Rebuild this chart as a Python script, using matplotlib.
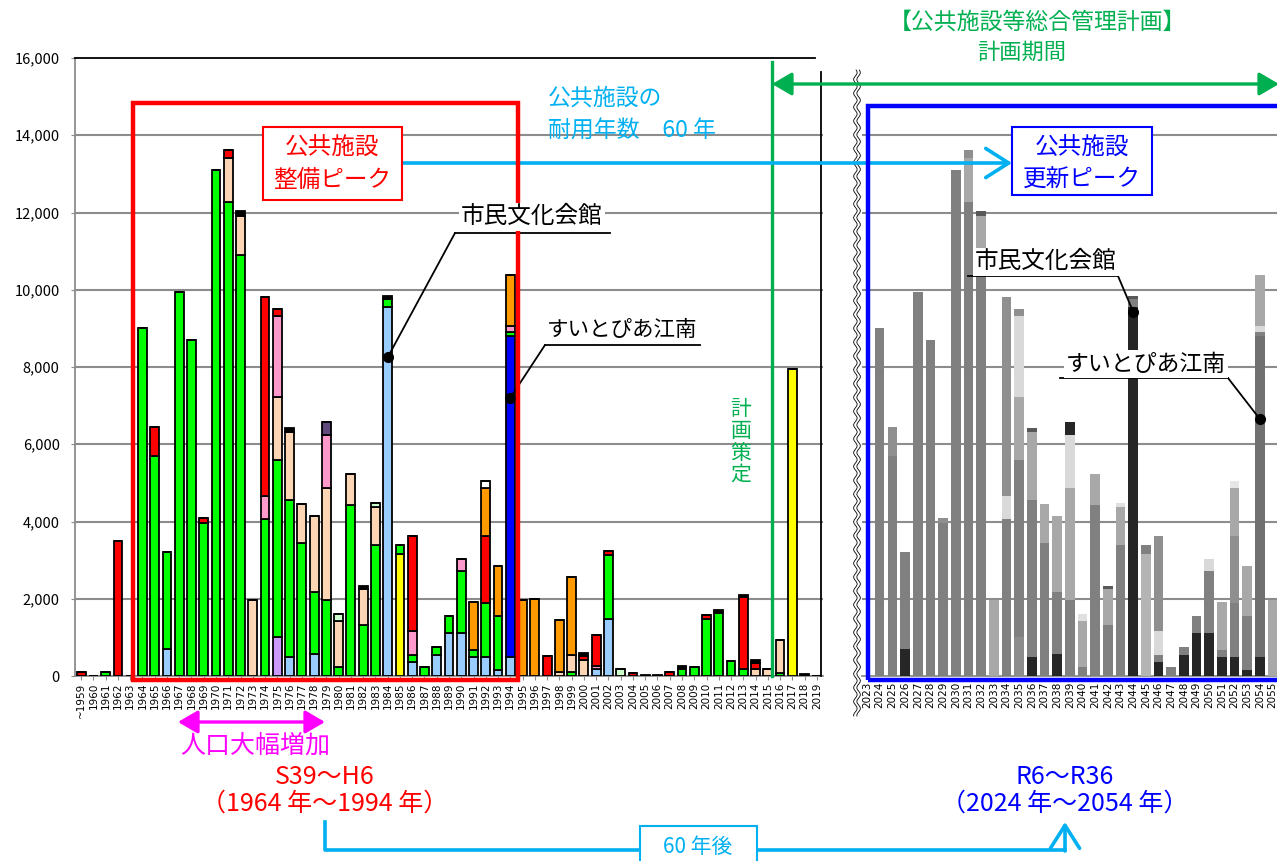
import numpy as np
import matplotlib
matplotlib.use("Agg")
import matplotlib.pyplot as plt
from matplotlib.patches import Rectangle, FancyArrowPatch
from matplotlib.lines import Line2D

plt.rcParams['font.family'] = ['Noto Sans CJK JP', 'DejaVu Sans']

W, H = 1277, 861

# 建築年度
years = list(range(1959, 2020))
year_labels = ['~1959'] + [str(y) for y in years[1:]]
renew_years = list(range(2023, 2056))
life_span = 60

# 施設区分ごとの整備延床面積（㎡）
light_blue = {1966: 700, 1976: 500, 1978: 570, 1984: 9560, 1986: 355, 1988: 545, 1989: 1110,
              1990: 1110, 1991: 485, 1992: 500, 1993: 150, 1994: 485, 2001: 180, 2002: 1480}
blue = {1994: 8330}
yellow = {1985: 3170, 2017: 7950}
purple = {1975: 1000}
green = {1961: 100, 1964: 9000, 1965: 5700, 1966: 2500, 1967: 9950, 1968: 8700, 1969: 3950,
         1970: 13100, 1971: 12280, 1972: 10900, 1974: 4070, 1975: 4590, 1976: 4050, 1977: 3450,
         1978: 1600, 1979: 1960, 1980: 225, 1981: 4440, 1982: 1330, 1983: 3400, 1984: 210,
         1985: 230, 1986: 200, 1987: 240, 1988: 215, 1989: 440, 1990: 1600, 1991: 190,
         1992: 1390, 1993: 1410, 1994: 85, 1999: 95, 2002: 1660, 2008: 180, 2009: 225,
         2010: 1480, 2011: 1630, 2012: 400, 2013: 180, 2016: 70}
peach = {1971: 1140, 1972: 1000, 1973: 1970, 1975: 1645, 1976: 1775, 1977: 1010, 1978: 1980,
         1979: 2900, 1980: 1195, 1981: 780, 1982: 930, 1983: 980, 1998: 100, 1999: 460,
         2000: 415, 2014: 180, 2015: 180, 2016: 865}
light_green = {1980: 190, 1983: 90, 2003: 180}
pink = {1974: 590, 1975: 2080, 1979: 1385, 1986: 600, 1990: 320, 1994: 155, 2001: 90}
dark_purple = {1979: 320}
red = {1959: 100, 1962: 3500, 1965: 750, 1969: 150, 1971: 200, 1974: 5140, 1975: 190,
       1986: 2475, 1992: 1730, 1997: 530, 2000: 95, 2001: 795, 2002: 100, 2004: 90,
       2007: 110, 2010: 110, 2013: 1860, 2014: 160}
orange = {1991: 1230, 1992: 1240, 1993: 1280, 1994: 1315, 1995: 1970, 1996: 2000,
          1998: 1340, 1999: 2010}
white = {1992: 180}
black = {1972: 130, 1976: 90, 1982: 70, 1984: 80, 2000: 85, 2005: 30, 2006: 30, 2008: 70,
         2011: 85, 2013: 70, 2014: 85, 2018: 40}

# 積み上げ順（下から）: データ, カラー, 更新時のグレー
series = [
    (light_blue, '#99CCFF', '#262626'),
    (blue, '#0000FF', '#707070'),
    (yellow, '#FFFF00', '#B4B4B4'),
    (purple, '#CC99FF', '#8C8C8C'),
    (green, '#00FF00', '#808080'),
    (peach, '#FCD5B4', '#A8A8A8'),
    (light_green, '#CCFFCC', '#E0E0E0'),
    (pink, '#FF99CC', '#D9D9D9'),
    (dark_purple, '#604A7B', '#262626'),
    (red, '#FF0000', '#8F8F8F'),
    (orange, '#FF9900', '#A8A8A8'),
    (white, '#FFFFFF', '#E6E6E6'),
    (black, '#000000', '#595959'),
]

grid_c = '#8C8C8C'


def fx(x):
    return x / W


def fy(y):
    return 1 - y / H


fig = plt.figure(figsize=(W / 100, H / 100), dpi=100)

# ---- 建築年度別（左） ----
ax = fig.add_axes([fx(75), fy(676), (823 - 75) / W, (676 - 58) / H])
x = np.array(years)
bottom = np.zeros(len(years))
for data, col, _ in series:
    vals = np.array([data.get(y, 0) for y in years], dtype=float)
    ax.bar(x, vals, bottom=bottom, width=0.72, color=col, edgecolor='black',
           linewidth=1.3, zorder=3)
    bottom += vals

ax.set_xlim(1958.5, 2019.5)
ax.set_ylim(0, 16000)
ax.set_yticks(range(0, 16001, 2000))
ax.set_yticklabels([f'{v:,}' for v in range(0, 16001, 2000)], fontsize=10.5)
ax.set_xticks(years)
ax.set_xticklabels(year_labels, rotation=90, fontsize=7.5, family='DejaVu Sans')
ax.tick_params(axis='y', length=3, pad=8, color=grid_c)
ax.tick_params(axis='x', length=3, pad=2, color=grid_c)
ax.grid(axis='y', color=grid_c, lw=1.5, zorder=0)
ax.yaxis.get_gridlines()[-1].set_visible(False)
ax.set_axisbelow(True)
for s in ['top', 'right']:
    ax.spines[s].set_visible(False)
for s in ['left', 'bottom']:
    ax.spines[s].set_color(grid_c)
    ax.spines[s].set_linewidth(1.3)

# ---- 60年後の更新年度（右） ----
ax2 = fig.add_axes([fx(862), fy(676), (1277 - 862) / W, (676 - 58) / H])
bottom = np.zeros(len(years))
for data, _, gray in series:
    vals = np.array([data.get(y, 0) for y in years], dtype=float)
    ax2.bar(x + life_span, vals, bottom=bottom, width=0.75, color=gray,
            edgecolor='none', zorder=3)
    bottom += vals
ax2.set_xlim(2022.6, 2055.35)
ax2.set_ylim(0, 16000)
ax2.set_yticks(range(2000, 15000, 2000))
ax2.set_yticklabels([])
ax2.set_xticks(renew_years)
ax2.set_xticklabels([str(y) for y in renew_years], rotation=90, fontsize=7.5,
                    family='DejaVu Sans')
ax2.tick_params(axis='y', length=0)
ax2.tick_params(axis='x', length=0, pad=4)
ax2.grid(axis='y', color=grid_c, lw=1.5, zorder=0)
ax2.set_axisbelow(True)
for s in ['top', 'right', 'left']:
    ax2.spines[s].set_visible(False)
ax2.spines['bottom'].set_color(grid_c)
ax2.spines['bottom'].set_linewidth(1.3)


def fline(xs, ys, z=2, **kw):
    fig.add_artist(Line2D([fx(v) for v in xs], [fy(v) for v in ys],
                          transform=fig.transFigure, zorder=z, **kw))


def farrow(p0, p1, style, color, lw, scale):
    fig.add_artist(FancyArrowPatch((fx(p0[0]), fy(p0[1])), (fx(p1[0]), fy(p1[1])),
                                   transform=fig.transFigure, arrowstyle=style,
                                   mutation_scale=scale, color=color, lw=lw,
                                   shrinkA=0, shrinkB=0, zorder=2))


def frect(x0, y0, x1, y1, z=3, **kw):
    fig.add_artist(Rectangle((fx(x0), fy(y1)), (x1 - x0) / W, (y1 - y0) / H,
                             transform=fig.transFigure, zorder=z, **kw))


def ftext(xp, yp, s, **kw):
    kw.setdefault('ha', 'center')
    kw.setdefault('va', 'center')
    fig.text(fx(xp), fy(yp), s, zorder=4, **kw)


# 枠線
fline([75, 815], [58, 58], color='black', lw=1.3)
fline([821, 821], [72, 676], color='black', lw=1.3)

# 省略の波線
yy = np.linspace(70, 716, 400)
for off in (-1.6, 1.6):
    fline(857 + off + 1.8 * np.sin(yy / 2.2), yy, color='black', lw=0.6)

# 整備ピーク・更新ピークの枠
frect(133, 103, 518, 680, fill=False, ec='#FF0000', lw=3.2)
frect(868, 106, 1290, 680, fill=False, ec='#0000FF', lw=3.2)

# 計画期間
green_c = '#00B050'
fline([772, 772], [62, 676], color=green_c, lw=2.4)
farrow((772, 84), (1279, 84), '<|-|>,head_length=0.6,head_width=0.35', green_c, 2.4, 20)
ftext(1037, 22, '【公共施設等総合管理計画】', color=green_c, fontsize=16.5)
ftext(1022, 52, '計画期間', color=green_c, fontsize=16)
ftext(741, 442, '計\n画\n策\n定', color=green_c, fontsize=15, linespacing=1.0)

# 耐用年数
cyan = '#00B0F0'
ftext(548, 98, '公共施設の', color=cyan, fontsize=16.5, ha='left')
ftext(548, 131, '耐用年数　60 年', color=cyan, fontsize=16.5, ha='left')
farrow((402, 163), (1012, 163), '->,head_length=0.55,head_width=0.35', cyan, 2.6, 30)

frect(263, 127, 402, 200, fc='white', ec='#FF0000', lw=1.5)
ftext(332, 148, '公共施設', color='#FF0000', fontsize=17)
ftext(332, 181, '整備ピーク', color='#FF0000', fontsize=17)
frect(1012, 127, 1152, 195, fc='white', ec='#0000FF', lw=1.5)
ftext(1082, 148, '公共施設', color='#0000FF', fontsize=17)
ftext(1082, 180, '更新ピーク', color='#0000FF', fontsize=17)


# 施設名の引出し線
def callout(axis, xy, text, size, tx, ty, ux0, ux1, uy, lx, ly):
    ftext(tx, ty, text, fontsize=size, bbox=dict(fc='white', ec='none', pad=1.5))
    fline([ux0, ux1], [uy, uy], color='black', lw=1.3)
    axis.annotate('', xy=xy, xycoords='data', xytext=(fx(lx), fy(ly)),
                  textcoords='figure fraction',
                  arrowprops=dict(arrowstyle='-', lw=1.3, color='black',
                                  shrinkA=0, shrinkB=0))
    axis.plot(*xy, 'o', color='black', ms=7, zorder=5, clip_on=False)


callout(ax, (1984, 8250), '市民文化会館', 17, 532, 217, 455, 610, 233, 455, 233)
callout(ax, (1994, 7200), 'すいとぴあ江南', 15.5, 622, 330, 545, 700, 345, 545, 345)
callout(ax2, (2044, 9430), '市民文化会館', 17, 1046, 262, 968, 1118, 276, 1118, 276)
callout(ax2, (2054, 6650), 'すいとぴあ江南', 16.5, 1146, 364, 1060, 1228, 378, 1228, 378)

# 人口増加期
mag = '#FF00FF'
farrow((178, 722), (325, 722), '<|-|>,head_length=0.6,head_width=0.35', mag, 2.4, 20)
ftext(255, 746, '人口大幅増加', color=mag, fontsize=18)

ftext(325, 777, 'S39～H6', color='#FF0000', fontsize=18)
ftext(325, 804, '（1964 年～1994 年）', color='#FF0000', fontsize=18)
ftext(1065, 777, 'R6～R36', color='#0000FF', fontsize=18)
ftext(1065, 804, '（2024 年～2054 年）', color='#0000FF', fontsize=18)

# 60年後
fline([325, 325, 1065], [822, 850, 850], color=cyan, lw=2.6)
farrow((1065, 851), (1065, 822), '->,head_length=0.55,head_width=0.35', cyan, 2.6, 30)
frect(640, 826, 757, 866, fc='white', ec=cyan, lw=1.5)
ftext(698, 847, '60 年後', color=cyan, fontsize=15)

fig.savefig('out.png', dpi=100)
